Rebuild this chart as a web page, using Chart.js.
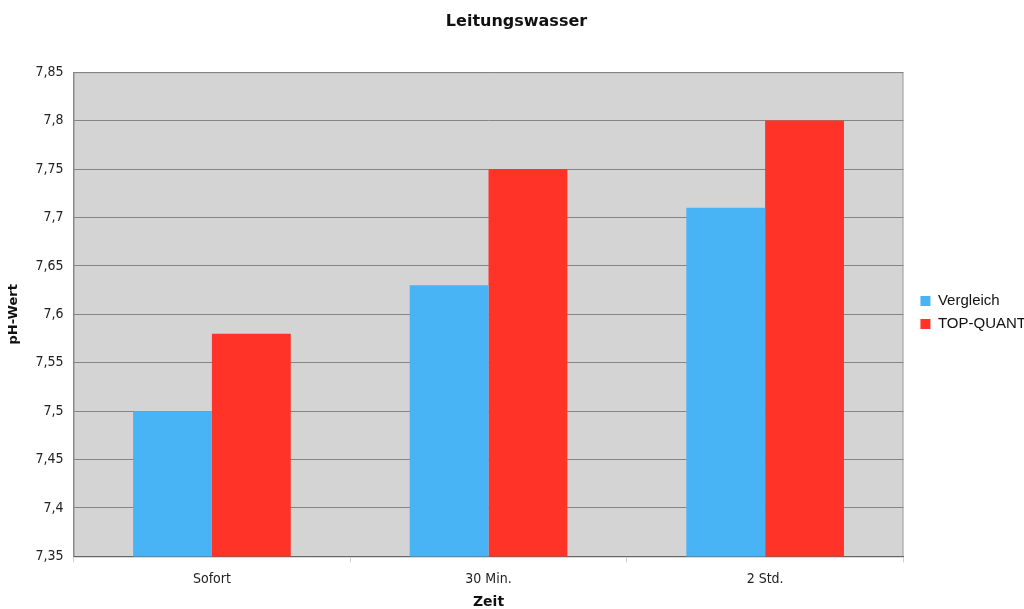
<!DOCTYPE html>
<html>
<head>
<meta charset="utf-8">
<script src="https://cdn.jsdelivr.net/npm/chart.js@4/dist/chart.umd.min.js"></script>
<style>
  html, body { margin: 0; padding: 0; background: #fff; overflow: hidden; }
  #wrap { width: 1024px; height: 609px; overflow: hidden; }
</style>
</head>
<body>
<div id="wrap"><canvas id="c" width="1030" height="609"></canvas></div>
<script>
const categories = ['Sofort', '30 Min.', '2 Std.'];
const vergleich = [7.50, 7.63, 7.71];
const topQuant = [7.58, 7.75, 7.80];
const seriesNames = ['Vergleich', 'TOP-QUANT'];
const yTicks = [7.35, 7.4, 7.45, 7.5, 7.55, 7.6, 7.65, 7.7, 7.75, 7.8, 7.85];

// grey plot background with a thin frame
const plotBg = {
  id: 'plotBg',
  beforeDraw(chart) {
    const { ctx, chartArea: a } = chart;
    ctx.save();
    ctx.fillStyle = '#d4d4d4';
    ctx.fillRect(a.left, a.top, a.right - a.left, a.bottom - a.top);
    ctx.strokeStyle = '#a0a0a0';
    ctx.lineWidth = 1;
    ctx.strokeRect(a.left + 0.5, a.top + 0.5, a.right - a.left - 1, a.bottom - a.top);
    ctx.restore();
  }
};

// leave a wider gap between the plot and the legend
const legendGap = {
  id: 'legendGap',
  afterLayout(chart) {
    const lg = chart.legend;
    if (!lg) return;
    lg.left += 9; lg.right += 9;
    lg.top += 3; lg.bottom += 3;
  }
};

new Chart(document.getElementById('c'), {
  type: 'bar',
  data: {
    labels: categories,
    datasets: [
      { label: seriesNames[0], data: vergleich, backgroundColor: '#48b4f6' },
      { label: seriesNames[1], data: topQuant, backgroundColor: '#ff3328' }
    ]
  },
  options: {
    responsive: false,
    animation: false,
    devicePixelRatio: 1,
    layout: { padding: { top: 10, left: 6, right: 3, bottom: 0 } },
    datasets: { bar: { categoryPercentage: 0.57, barPercentage: 1.0 } },
    plugins: {
      title: {
        display: true,
        text: 'Leitungswasser',
        color: '#111',
        font: { family: 'DejaVu Sans', size: 16, weight: 'bold' },
        padding: { top: 2, bottom: 41 }
      },
      legend: {
        position: 'right',
        labels: {
          boxWidth: 10, boxHeight: 10, padding: 8,
          color: '#111',
          font: { family: 'Liberation Sans', size: 15 }
        }
      },
      tooltip: { enabled: false }
    },
    scales: {
      x: {
        grid: { drawOnChartArea: false, color: '#d0d0d0', tickLength: 6, offset: true },
        border: { color: '#666' },
        ticks: { color: '#222', font: { family: 'DejaVu Sans Condensed', size: 14, lineHeight: 1 }, padding: 10 },
        title: { display: true, text: 'Zeit', color: '#111', font: { family: 'DejaVu Sans', size: 14, weight: 'bold', lineHeight: 0.9 }, padding: { top: 0, bottom: 0 } }
      },
      y: {
        min: 7.35, max: 7.85,
        afterBuildTicks(axis) { axis.ticks = yTicks.map(v => ({ value: v })); },
        grid: { color: '#858585', tickLength: 0 },
        border: { color: '#888' },
        ticks: {
          color: '#222', padding: 10,
          font: { family: 'DejaVu Sans Condensed', size: 14 },
          callback: v => String(Math.round(v * 100) / 100).replace('.', ',')
        },
        title: { display: true, text: 'pH-Wert', color: '#111', font: { family: 'DejaVu Sans', size: 13, weight: 'bold' }, padding: { top: 0, bottom: 4 } }
      }
    }
  },
  plugins: [plotBg, legendGap]
});
</script>
</body>
</html>
